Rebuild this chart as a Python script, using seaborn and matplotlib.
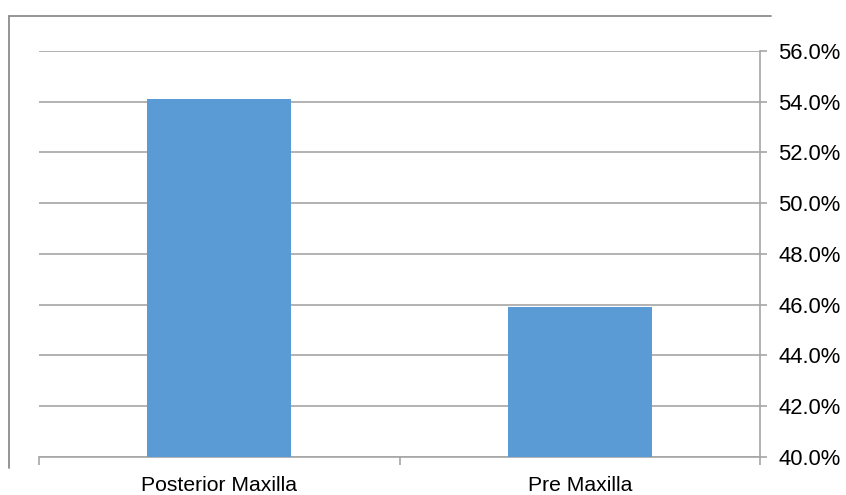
import matplotlib
matplotlib.use("Agg")
import matplotlib.pyplot as plt
import seaborn as sns
import pandas as pd
from matplotlib.ticker import PercentFormatter, FixedLocator
from matplotlib.lines import Line2D

categories = ["Posterior Maxilla", "Pre Maxilla"]
values = [54.1, 45.9]
y_ticks = [40, 42, 44, 46, 48, 50, 52, 54, 56]

df = pd.DataFrame({"region": categories, "pct": values})

sns.set_theme(style="white")
plt.rcParams["font.family"] = ["Liberation Sans", "DejaVu Sans"]

W, H = 846, 495
fig = plt.figure(figsize=(W / 100, H / 100), dpi=100)
ax = fig.add_axes([39 / W, 1 - 456.7 / H, (760 - 39) / W, (456.7 - 51) / H])

sns.barplot(data=df, x="region", y="pct", color="#5B9BD5", width=0.4,
            saturation=1, linewidth=0, edgecolor="none", ax=ax, zorder=3)

grid_c = "#A6A6A6"
ax.set_ylim(40, 56)
ax.set_xlim(-0.5, 1.5)
ax.yaxis.set_major_locator(FixedLocator(y_ticks))
ax.yaxis.set_major_formatter(PercentFormatter(decimals=1))
ax.yaxis.tick_right()
ax.yaxis.grid(True, color=grid_c, linewidth=1.2, zorder=0)
ax.set_axisbelow(True)
ax.set_xlabel("")
ax.set_ylabel("")

for s in ["top", "left"]:
    ax.spines[s].set_visible(False)
for s in ["right", "bottom"]:
    ax.spines[s].set_visible(True)
    ax.spines[s].set_color(grid_c)
    ax.spines[s].set_linewidth(1.2)

ax.tick_params(axis="y", which="major", right=True, left=False, length=5,
               width=1.2, color=grid_c, labelsize=15.8, labelcolor="#000000", pad=8)
ax.xaxis.set_minor_locator(FixedLocator([-0.5, 0.5, 1.5]))
ax.tick_params(axis="x", which="major", length=0, labelsize=15.2,
               labelcolor="#000000", pad=14)
ax.tick_params(axis="x", which="minor", bottom=True, length=6, width=1.2,
               color=grid_c)

# outer chart frame (left and top edges)
frame_c = "#8C8C8C"
fig.add_artist(Line2D([8.5 / W, 8.5 / W], [1 - 468 / H, 1 - 15.5 / H],
                      transform=fig.transFigure, color=frame_c, linewidth=1.3))
fig.add_artist(Line2D([8.5 / W, 771 / W], [1 - 15.5 / H, 1 - 15.5 / H],
                      transform=fig.transFigure, color=frame_c, linewidth=1.3))

fig.savefig("out.png", dpi=100)
